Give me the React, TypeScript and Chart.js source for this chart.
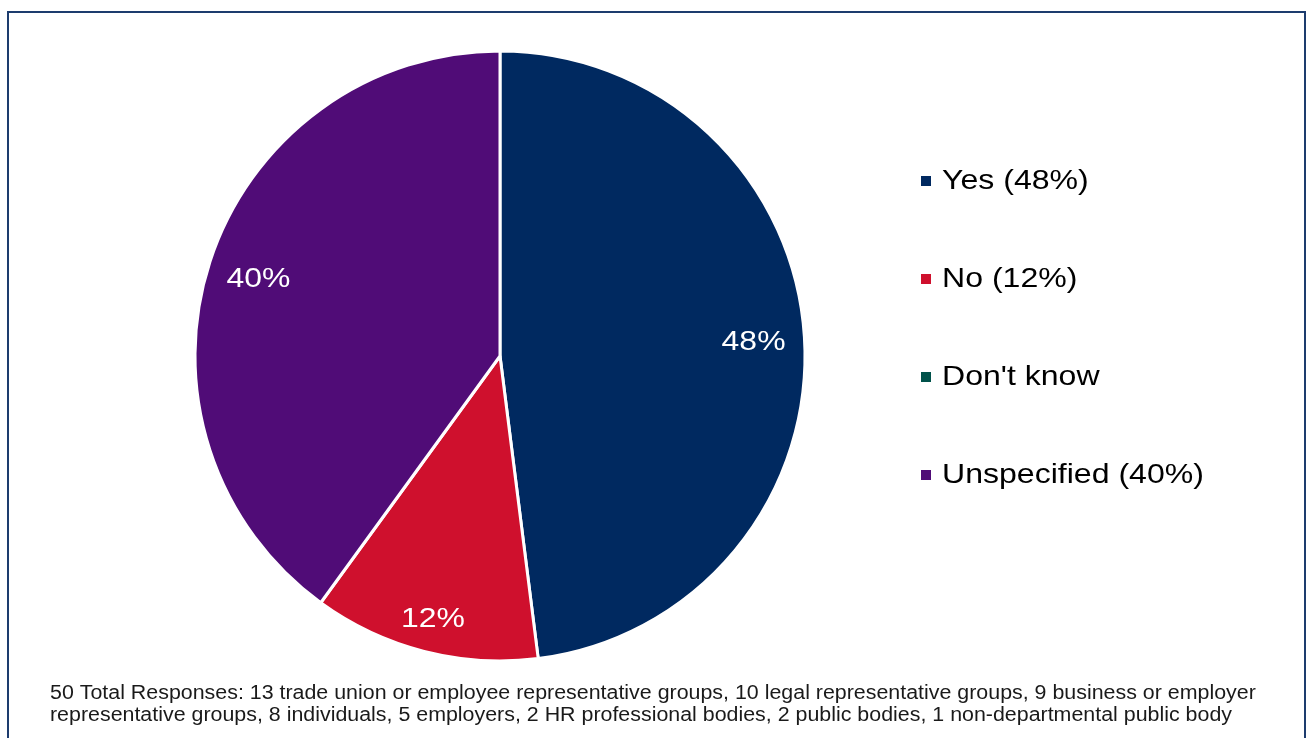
import React, { useEffect, useRef } from "react";
import { Chart, registerables } from "chart.js";

Chart.register(...registerables);

const categories = ["Yes", "No", "Don't know", "Unspecified"];
const legendLabels = ["Yes (48%)", "No (12%)", "Don't know", "Unspecified (40%)"];
const percentages = [48, 12, 0, 40];
const sliceColors = ["#002960", "#CF102D", "#00524A", "#500C77"];
const footnoteLines = [
  "50 Total Responses: 13 trade union or employee representative groups, 10 legal representative groups, 9 business or employer",
  "representative groups, 8 individuals, 5 employers, 2 HR professional bodies, 2 public bodies, 1 non-departmental public body",
];

const FONT = '"Liberation Sans", Arial, sans-serif';

function stretchedText(ctx: any, text: string, x: number, y: number, sx: number, align: "left" | "center") {
  ctx.save();
  ctx.translate(x, y);
  ctx.scale(sx, 1);
  ctx.textAlign = align;
  ctx.fillText(text, 0, 0);
  ctx.restore();
}

const framePlugin = {
  id: "frame",
  beforeDraw(chart: any) {
    const ctx = chart.ctx;
    ctx.save();
    ctx.fillStyle = "#ffffff";
    ctx.fillRect(0, 0, chart.width, chart.height);
    ctx.strokeStyle = "#1D3C6E";
    ctx.lineWidth = 2;
    ctx.strokeRect(8, 12, 1297, 800);
    ctx.restore();
  },
};

const decorPlugin = {
  id: "decor",
  afterDraw(chart: any) {
    const ctx = chart.ctx;
    const meta = chart.getDatasetMeta(0);
    ctx.save();
    ctx.textBaseline = "alphabetic";
    // data labels
    ctx.font = `28px ${FONT}`;
    ctx.fillStyle = "#ffffff";
    meta.data.forEach((arc: any, i: number) => {
      const v = percentages[i];
      if (!v) return;
      const mid = (arc.startAngle + arc.endAngle) / 2;
      const span = arc.endAngle - arc.startAngle;
      const r = arc.outerRadius * (span < Math.PI / 2 ? 0.885 : 0.833);
      const x = arc.x + Math.cos(mid) * r;
      const y = arc.y + Math.sin(mid) * r + 10;
      stretchedText(ctx, `${v}%`, x, y, 1.14, "center");
    });
    // legend
    legendLabels.forEach((lab, i) => {
      const y = 181 + i * 98;
      ctx.fillStyle = sliceColors[i];
      ctx.fillRect(921, y - 5, 10, 10);
      ctx.fillStyle = "#000000";
      ctx.font = `28px ${FONT}`;
      stretchedText(ctx, lab, 942, y + 8, 1.145, "left");
    });
    // footnote
    ctx.font = `19.5px ${FONT}`;
    ctx.fillStyle = "#1a1a1a";
    footnoteLines.forEach((line, i) => {
      stretchedText(ctx, line, 50, 699 + i * 22, 1.097, "left");
    });
    ctx.restore();
  },
};

export default function App() {
  const ref = useRef<HTMLCanvasElement>(null);
  useEffect(() => {
    if (!ref.current) return;
    const chart = new Chart(ref.current, {
      type: "pie",
      data: {
        labels: categories,
        datasets: [
          {
            data: percentages,
            backgroundColor: sliceColors,
            borderColor: "#ffffff",
            borderWidth: 3,
          },
        ],
      },
      options: {
        responsive: false,
        animation: false,
        radius: 305,
        layout: { padding: { left: 190, right: 502, top: 46, bottom: 72 } },
        plugins: {
          legend: { display: false },
          tooltip: { enabled: false },
        },
      } as any,
      plugins: [framePlugin, decorPlugin],
    });
    return () => chart.destroy();
  }, []);
  return (
    <div style={{ position: "fixed", left: 0, top: 0, width: 1312, height: 738, overflow: "hidden", background: "#fff" }}>
      <canvas ref={ref} width={1312} height={738} style={{ display: "block", width: 1312, height: 738 }} />
    </div>
  );
}
